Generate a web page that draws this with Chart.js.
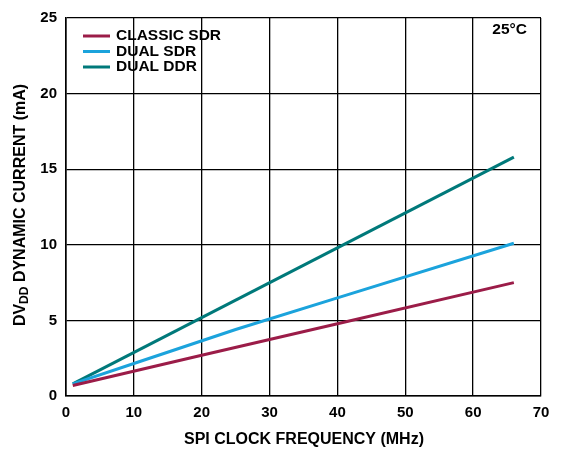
<!DOCTYPE html>
<html>
<head>
<meta charset="utf-8">
<script src="https://cdn.jsdelivr.net/npm/chart.js@4"></script>
<style>
  html, body { margin: 0; padding: 0; background: #fff; }
  #wrap { width: 570px; height: 450px; }
</style>
</head>
<body>
<div id="wrap"><canvas id="chart" width="570" height="450"></canvas></div>
<script>
/* ================= DATA ================= */

const seriesNames = ["CLASSIC SDR", "DUAL SDR", "DUAL DDR"];
const seriesColors = ["#9b1c48", "#1ba3dc", "#00797a"];

const classicSdrX = [1, 20, 40, 66];
const classicSdrY = [0.7, 2.69, 4.78, 7.5];

const dualSdrX = [1, 10, 25, 40, 66];
const dualSdrY = [0.8, 2.15, 4.4, 6.49, 10.1];

const dualDdrX = [1, 66];
const dualDdrY = [0.8, 15.8];

const xTicks = [0, 10, 20, 30, 40, 50, 60, 70];
const yTicks = [0, 5, 10, 15, 20, 25];

const FONT = "'Liberation Sans', Arial, sans-serif";

function pts(xs, ys) {
  return xs.map((x, i) => ({ x: x, y: ys[i] }));
}

/* ================= TITLES + LEGEND PLUGIN ================= */

const decorations = {
  id: "decorations",
  afterDraw(chart) {
    const c = chart.ctx;
    const area = chart.chartArea;
    c.save();
    c.fillStyle = "#000";

    // legend, inside the plot at top left
    c.font = "bold 15.5px " + FONT;
    c.textBaseline = "middle";
    c.textAlign = "left";
    chart.data.datasets.forEach((ds, i) => {
      const y = 36 + i * 15.5;
      c.strokeStyle = ds.borderColor;
      c.lineWidth = 3;
      c.beginPath();
      c.moveTo(83, y);
      c.lineTo(110, y);
      c.stroke();
      c.fillText(ds.label, 116, y);
    });

    // temperature note
    c.textAlign = "right";
    c.fillText("25°C", area.right - 14, 30);

    // x axis title
    c.font = "bold 16px " + FONT;
    c.textAlign = "center";
    c.fillText("SPI CLOCK FREQUENCY (MHz)", 304, 440);

    // y axis title with subscript
    c.translate(21, 205);
    c.rotate(-Math.PI / 2);
    const big = "bold 16px " + FONT;
    const small = "bold 12px " + FONT;
    const parts = [
      { t: "DV", f: big, dy: 0 },
      { t: "DD", f: small, dy: 4 },
      { t: " DYNAMIC CURRENT (mA)", f: big, dy: 0 }
    ];
    let total = 0;
    parts.forEach(p => { c.font = p.f; p.w = c.measureText(p.t).width; total += p.w; });
    let x = -total / 2;
    c.textAlign = "left";
    parts.forEach(p => {
      c.font = p.f;
      c.fillText(p.t, x, p.dy);
      x += p.w;
    });
    c.restore();
  }
};

/* ================= CHART ================= */

const seriesX = [classicSdrX, dualSdrX, dualDdrX];
const seriesY = [classicSdrY, dualSdrY, dualDdrY];

new Chart(document.getElementById("chart"), {
  type: "scatter",
  data: {
    datasets: seriesNames.map((name, i) => ({
      label: name,
      data: pts(seriesX[i], seriesY[i]),
      borderColor: seriesColors[i],
      backgroundColor: seriesColors[i],
      showLine: true,
      borderWidth: 3,
      pointRadius: 0,
      tension: 0
    }))
  },
  options: {
    responsive: false,
    animation: false,
    layout: { padding: { left: 0, right: 29, top: 16, bottom: 0 } },
    plugins: {
      legend: { display: false },
      tooltip: { enabled: false }
    },
    scales: {
      x: {
        type: "linear",
        min: 0,
        max: 70,
        afterBuildTicks: s => { s.ticks = xTicks.map(v => ({ value: v })); },
        afterFit: s => { s.height = 54; },
        grid: { color: "#000", lineWidth: 1.3, drawTicks: false },
        border: { color: "#000", width: 1.6 },
        ticks: {
          color: "#000",
          padding: 8,
          font: { family: FONT, size: 15, weight: "bold" }
        }
      },
      y: {
        type: "linear",
        min: 0,
        max: 25,
        afterBuildTicks: s => { s.ticks = yTicks.map(v => ({ value: v })); },
        afterFit: s => { s.width = 66; },
        grid: { color: "#000", lineWidth: 1.3, drawTicks: false },
        border: { color: "#000", width: 1.6 },
        ticks: {
          color: "#000",
          padding: 9,
          font: { family: FONT, size: 15, weight: "bold" }
        }
      }
    }
  },
  plugins: [decorations]
});
</script>
</body>
</html>
